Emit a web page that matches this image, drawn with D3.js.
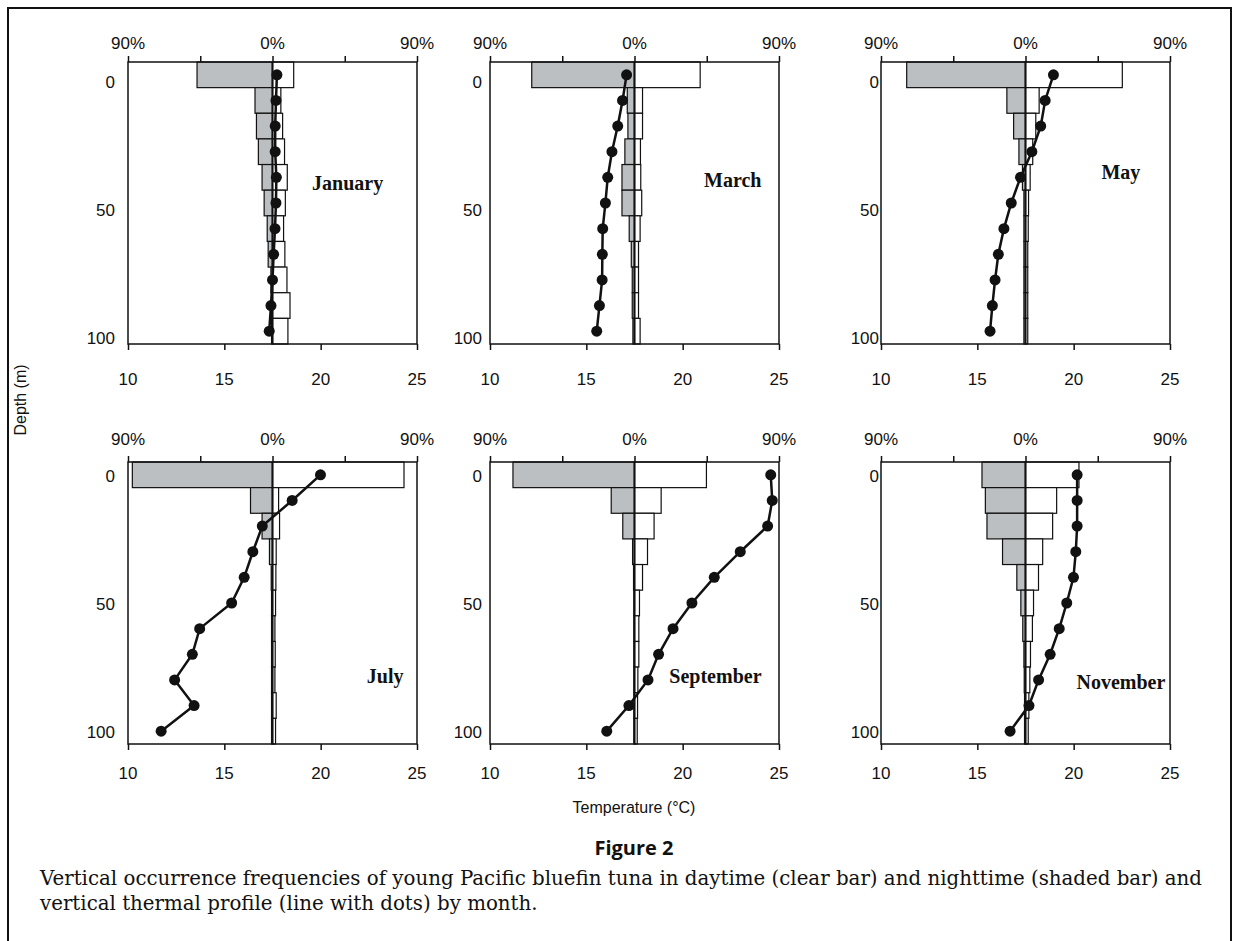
<!DOCTYPE html>
<html>
<head>
<meta charset="utf-8">
<script src="https://cdn.jsdelivr.net/npm/d3@7"></script>
<style>
  body { margin: 0; background: #fff; }
  svg text { font-family: "Liberation Sans", Arial, sans-serif; fill: #111; }
</style>
</head>
<body>
<div id="chart"></div>
<script>
// depth bins (m), 10 m each
const depths = [0, 10, 20, 30, 40, 50, 60, 70, 80, 90, 100];
const months = ["January", "March", "May", "July", "September", "November"];

// nighttime occurrence (%), shaded bars, drawn to the left
const janNight = [47, 10.9, 10, 8.8, 6.5, 5.2, 3.3, 2.7, 1, 0.6, 0.6];
const marNight = [64, 4.5, 4.1, 6, 7.8, 7.8, 3.3, 2, 1.4, 1.4, 1];
const mayNight = [74, 11.6, 7.4, 4.1, 1.9, 1, 1, 1, 1, 1, 1];
const julNight = [87.3, 13.7, 6.5, 1.9, 0.8, 0.6, 0.6, 0.6, 0.6, 0.6, 0.6];
const sepNight = [75.7, 14.5, 7.3, 1.2, 0.6, 0.4, 0.4, 0.4, 0.4, 0.4, 0.4];
const novNight = [27.1, 25, 24, 14.3, 5.4, 2.9, 1.7, 1, 0.8, 0.6, 0.6];

// daytime occurrence (%), clear bars, drawn to the right
const janDay = [13.2, 5.2, 6.3, 7.5, 9.2, 8, 6.9, 7.7, 9, 10.9, 9.6];
const marDay = [40.9, 5, 5, 3.7, 3.9, 4.5, 3.5, 2.5, 2.5, 2.5, 3.5];
const mayDay = [60.3, 8.5, 6.4, 4.5, 2.9, 1.9, 1.7, 1.4, 1.4, 1.4, 1.4];
const julDay = [81.9, 3.8, 4.4, 2.3, 2.1, 1.9, 1.5, 1.7, 1.5, 2.3, 1.9];
const sepDay = [44.8, 16.6, 12.2, 8.1, 5, 3.1, 2.7, 2.7, 2.1, 1.9, 1.7];
const novDay = [33.3, 19.4, 16.9, 10.7, 8.1, 5, 4.3, 3.1, 2.7, 2.1, 1.7];

// temperature profile (°C)
const janTemp = [17.73, 17.68, 17.64, 17.64, 17.70, 17.68, 17.63, 17.56, 17.50, 17.42, 17.33];
const marTemp = [17.09, 16.88, 16.63, 16.33, 16.11, 15.99, 15.85, 15.83, 15.82, 15.68, 15.54];
const mayTemp = [18.95, 18.52, 18.29, 17.83, 17.24, 16.76, 16.38, 16.09, 15.92, 15.78, 15.66];
const julTemp = [19.99, 18.52, 16.97, 16.48, 16.03, 15.38, 13.72, 13.34, 12.42, 13.43, 11.72];
const sepTemp = [24.57, 24.65, 24.41, 22.99, 21.64, 20.48, 19.50, 18.75, 18.20, 17.21, 16.06];
const novTemp = [20.18, 20.18, 20.18, 20.11, 19.99, 19.64, 19.25, 18.78, 18.18, 17.68, 16.70];

const pctTicks = [-90, -45, 0, 45, 90];
const pctLabels = [-90, 0, 90];
const tempTicks = [10, 15, 20, 25];
const depthLabels = [0, 50, 100];

const nights = [janNight, marNight, mayNight, julNight, sepNight, novNight];
const days = [janDay, marDay, mayDay, julDay, sepDay, novDay];
const temps = [janTemp, marTemp, mayTemp, julTemp, sepTemp, novTemp];

// layout
const W = 1238, H = 941;
const colX = [128, 490, 881];
const rowY = [62, 462];
const pw = 289, ph = 282;
const depthGap = [13, 8, 2];          // gap between depth labels and the axis, per column
const depthShift = [7, 1];            // vertical nudge of depth labels, per row
const topGap = [13, 17];              // baseline of % labels above the frame, per row
const botGap = [41, 35];              // baseline of temperature labels below the frame, per row
// month name positions as fractions of the panel
const monthPos = [[0.76, 0.43], [0.84, 0.42], [0.83, 0.39], [0.89, 0.76], [0.78, 0.76], [0.83, 0.78]];

const svg = d3.select('#chart').append('svg')
  .attr('width', W)
  .attr('height', H);

// page frame
svg.append('path')
  .attr('d', `M8,${H} V8 H1231 V${H}`)
  .attr('fill', 'none')
  .attr('stroke', '#111')
  .attr('stroke-width', 2);

months.forEach((m, i) => {
  const col = i % 3, row = Math.floor(i / 3);
  const g = svg.append('g').attr('transform', `translate(${colX[col]},${rowY[row]})`);

  const x = d3.scaleLinear().domain([-90, 90]).range([0, pw]);
  const t = d3.scaleLinear().domain([10, 25]).range([0, pw]);
  const y = d3.scaleBand().domain(depths).range([0, ph]).padding(0);
  const bw = y.bandwidth();

  // nighttime bars
  g.selectAll('rect.night')
    .data(nights[i])
    .join('rect')
      .attr('class', 'night')
      .attr('x', d => x(-d))
      .attr('width', d => x(0) - x(-d))
      .attr('y', (d, j) => y(depths[j]))
      .attr('height', bw)
      .attr('fill', '#bcbfc1')
      .attr('stroke', '#111')
      .attr('stroke-width', 1.2);

  // daytime bars
  g.selectAll('rect.day')
    .data(days[i])
    .join('rect')
      .attr('class', 'day')
      .attr('x', x(0))
      .attr('width', d => x(d) - x(0))
      .attr('y', (d, j) => y(depths[j]))
      .attr('height', bw)
      .attr('fill', '#fff')
      .attr('stroke', '#111')
      .attr('stroke-width', 1.2);

  // zero line
  g.append('line')
    .attr('x1', x(0)).attr('x2', x(0))
    .attr('y1', 0).attr('y2', ph)
    .attr('stroke', '#111')
    .attr('stroke-width', 2);

  // plot frame
  g.append('rect')
    .attr('width', pw)
    .attr('height', ph)
    .attr('fill', 'none')
    .attr('stroke', '#111')
    .attr('stroke-width', 1.5);

  // top axis: percent
  const top = g.append('g')
    .call(d3.axisTop(x).tickValues(pctTicks).tickSize(6).tickSizeOuter(0).tickFormat(''));
  top.select('.domain').remove();
  top.selectAll('line').attr('stroke', '#111').attr('stroke-width', 1.5);

  g.selectAll('text.pct')
    .data(pctLabels)
    .join('text')
      .attr('class', 'pct')
      .attr('x', d => x(d))
      .attr('y', -topGap[row])
      .attr('text-anchor', 'middle')
      .style('font-size', '17px')
      .text(d => Math.abs(d) + '%');

  // bottom axis: temperature
  const bot = g.append('g')
    .attr('transform', `translate(0,${ph})`)
    .call(d3.axisBottom(t).tickValues(tempTicks).tickSize(6).tickSizeOuter(0).tickFormat(''));
  bot.select('.domain').remove();
  bot.selectAll('line').attr('stroke', '#111').attr('stroke-width', 1.5);

  g.selectAll('text.temp')
    .data(tempTicks)
    .join('text')
      .attr('class', 'temp')
      .attr('x', d => t(d))
      .attr('y', ph + botGap[row])
      .attr('text-anchor', 'middle')
      .style('font-size', '17px')
      .text(d => d);

  // depth labels
  g.selectAll('text.depth')
    .data(depthLabels)
    .join('text')
      .attr('class', 'depth')
      .attr('x', -depthGap[col])
      .attr('y', d => y(d) + bw / 2 + depthShift[row])
      .attr('dy', '0.35em')
      .attr('text-anchor', 'end')
      .style('font-size', '17px')
      .text(d => d);

  // temperature profile
  const prof = temps[i].map((v, j) => ({ depth: depths[j], temp: v }));
  g.append('path')
    .datum(prof)
    .attr('fill', 'none')
    .attr('stroke', '#111')
    .attr('stroke-width', 2.5)
    .attr('d', d3.line().x(d => t(d.temp)).y(d => y(d.depth) + bw / 2));

  g.selectAll('circle.dot')
    .data(prof)
    .join('circle')
      .attr('class', 'dot')
      .attr('cx', d => t(d.temp))
      .attr('cy', d => y(d.depth) + bw / 2)
      .attr('r', 5.5)
      .attr('fill', '#111');

  // month name
  g.append('text')
    .attr('x', pw * monthPos[i][0])
    .attr('y', ph * monthPos[i][1])
    .attr('dy', '0.35em')
    .attr('text-anchor', 'middle')
    .style('font-family', '"Liberation Serif", "Times New Roman", serif')
    .style('font-weight', 'bold')
    .style('font-size', '20px')
    .text(m);
});

// axis titles
svg.append('text')
  .attr('transform', 'translate(20,400) rotate(-90)')
  .attr('text-anchor', 'middle')
  .attr('dy', '0.35em')
  .style('font-size', '16px')
  .text('Depth (m)');

svg.append('text')
  .attr('x', 634)
  .attr('y', 813)
  .attr('text-anchor', 'middle')
  .style('font-size', '16px')
  .text('Temperature (°C)');

// caption
svg.append('text')
  .attr('x', 634)
  .attr('y', 855)
  .attr('text-anchor', 'middle')
  .style('font-family', '"Open Sans", "Noto Sans", sans-serif')
  .style('font-weight', 'bold')
  .style('font-size', '20px')
  .text('Figure 2');

const captionLines = [
  'Vertical occurrence frequencies of young Pacific bluefin tuna in daytime (clear bar) and nighttime (shaded bar) and',
  'vertical thermal profile (line with dots) by month.'
];

const cap = svg.selectAll('text.cap')
  .data(captionLines)
  .join('text')
    .attr('class', 'cap')
    .attr('x', 40)
    .attr('y', (d, i) => 885 + i * 25)
    .style('font-family', '"DejaVu Serif", "Liberation Serif", serif')
    .style('font-size', '16px')
    .text(d => d);

// fit the first caption line to the page width
const len = cap.nodes()[0].getComputedTextLength();
const fs = 16 * 1163 / len;
cap.style('font-size', fs + 'px');
</script>
</body>
</html>
